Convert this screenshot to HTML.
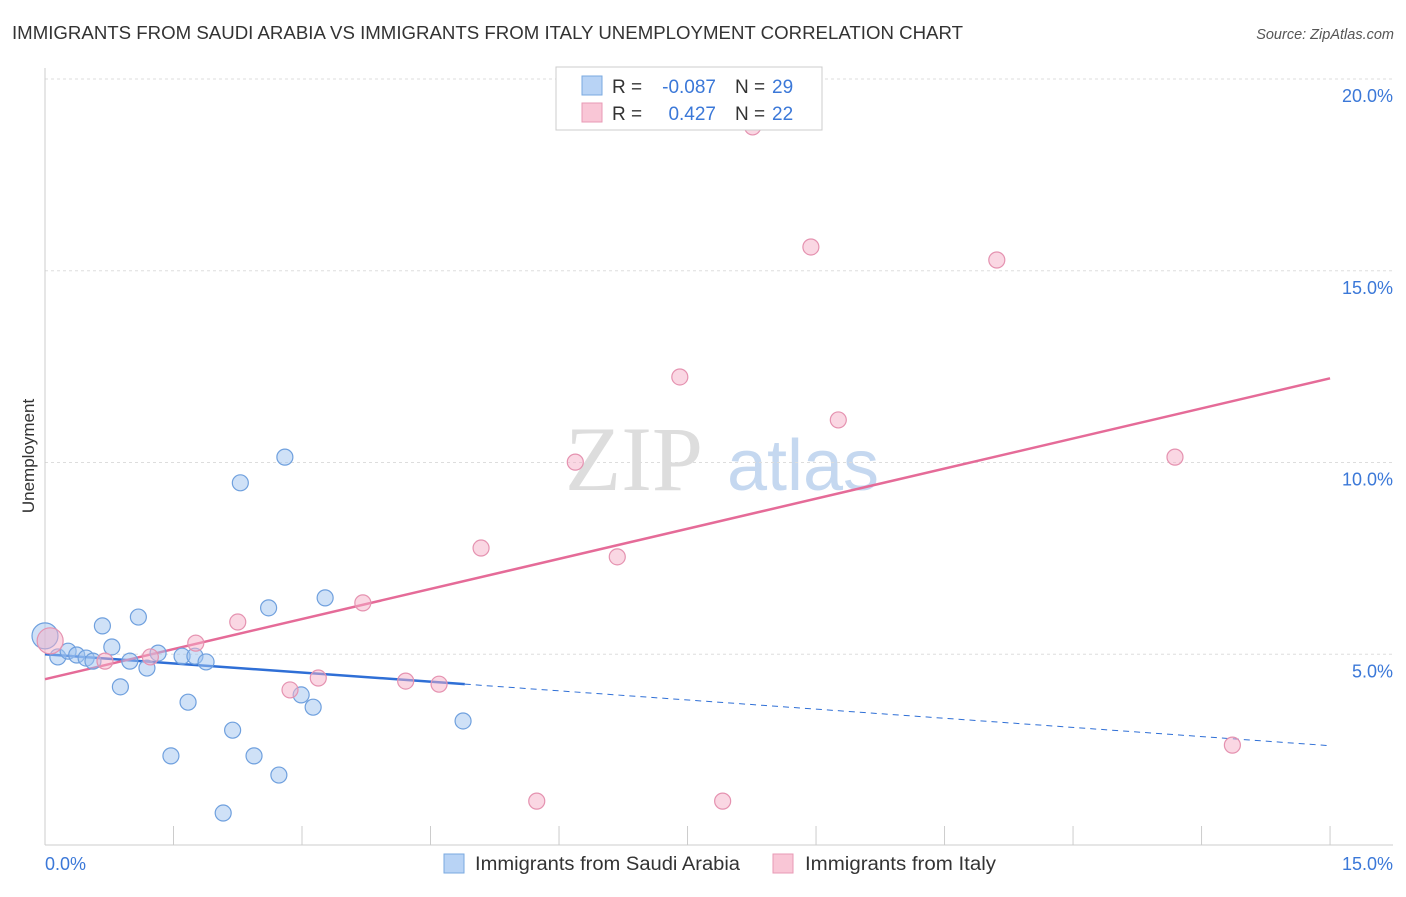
<!DOCTYPE html>
<html><head><meta charset="utf-8"><style>
body{margin:0;background:#fff;font-family:"Liberation Sans",sans-serif}
svg text{font-family:"Liberation Sans",sans-serif}
</style></head><body>
<svg id="chart" width="1406" height="892">
<text x="12" y="39" font-size="18" fill="#333" textLength="951" lengthAdjust="spacingAndGlyphs">IMMIGRANTS FROM SAUDI ARABIA VS IMMIGRANTS FROM ITALY UNEMPLOYMENT CORRELATION CHART</text>
<text x="1394" y="39" font-size="14.5" fill="#555" font-style="italic" text-anchor="end">Source: ZipAtlas.com</text>
<text x="34" y="456" font-size="17" fill="#333" text-anchor="middle" transform="rotate(-90 34 456)">Unemployment</text>
<g>
<text x="634" y="490" font-size="92" fill="#ddd" text-anchor="middle" style="font-family:'Liberation Serif',serif">ZIP</text>
<text x="803" y="490" font-size="72" fill="#c5d8f0" text-anchor="middle">atlas</text>
</g>
<g id="grid"></g><g id="axes"></g><g id="trends"></g><g id="points"></g>
<g>
<rect x="556" y="67" width="266" height="63" fill="#fff" stroke="#ccc"/>
<rect x="582" y="76" width="20" height="19" fill="#b8d3f5" stroke="#7aaae0"/>
<rect x="582" y="103" width="20" height="19" fill="#f9c6d6" stroke="#e89ab5"/>
<text x="612" y="93" font-size="19" fill="#333">R =</text>
<text x="716" y="93" font-size="19" fill="#3b78d8" text-anchor="end">-0.087</text>
<text x="735" y="93" font-size="19" fill="#333">N =</text>
<text x="772" y="93" font-size="19" fill="#3b78d8">29</text>
<text x="612" y="120" font-size="19" fill="#333">R =</text>
<text x="716" y="120" font-size="19" fill="#3b78d8" text-anchor="end">0.427</text>
<text x="735" y="120" font-size="19" fill="#333">N =</text>
<text x="772" y="120" font-size="19" fill="#3b78d8">22</text>
</g>
<g>
<rect x="444" y="854" width="20" height="19" fill="#b8d3f5" stroke="#7aaae0"/>
<text x="475" y="870" font-size="19" fill="#333" textLength="265" lengthAdjust="spacingAndGlyphs">Immigrants from Saudi Arabia</text>
<rect x="773" y="854" width="20" height="19" fill="#f9c6d6" stroke="#e89ab5"/>
<text x="805" y="870" font-size="19" fill="#333" textLength="191" lengthAdjust="spacingAndGlyphs">Immigrants from Italy</text>
</g>
</svg>
<script>
const blueX=[0.00,0.15,0.27,0.37,0.48,0.56,0.67,0.78,0.88,0.99,1.09,1.19,1.32,1.47,1.60,1.67,1.75,1.88,2.08,2.19,2.28,2.44,2.61,2.73,2.80,2.99,3.13,3.27,4.88];
const blueY=[5.48,4.93,5.08,4.98,4.90,4.82,5.74,5.19,4.15,4.82,5.97,4.64,5.03,2.35,4.95,3.75,4.95,4.80,0.86,3.02,9.47,2.35,6.21,1.85,10.14,3.94,3.62,6.47,3.26];
const pinkX=[0.06,0.70,1.23,1.76,2.25,2.86,3.19,3.71,4.21,4.60,5.09,5.74,6.19,6.68,7.41,7.91,8.26,8.94,9.26,11.11,13.19,13.86];
const pinkY=[5.35,4.82,4.93,5.29,5.84,4.07,4.38,6.34,4.30,4.22,7.77,1.17,10.01,7.54,12.23,1.17,18.75,15.62,11.11,15.28,10.14,2.63];
const yTicks=[5,10,15,20];
const yTickLabels=["5.0%","10.0%","15.0%","20.0%"];
const xTicks=[0,1.5,3,4.5,6,7.5,9,10.5,12,13.5,15];
const blueTrend=[5.0,-0.159];
const pinkTrend=[4.35,0.523];
const NS="http://www.w3.org/2000/svg";
const sx=v=>45+v*85.67, sy=v=>846-v*38.35;
function mk(p,t,a){const e=document.createElementNS(NS,t);for(const k in a)e.setAttribute(k,a[k]);document.getElementById(p).appendChild(e);return e;}
yTicks.forEach((t,i)=>{
 const g=mk('grid','line',{x1:45,x2:1393,y1:sy(t),y2:sy(t),stroke:'#ddd','stroke-dasharray':'3,3'});
 
 
 const l=mk('grid','text',{x:1393,y:sy(t)+23,'font-size':18,fill:'#3b78d8','text-anchor':'end'});
 l.textContent=yTickLabels[i];
 
 
});
const topGrid=mk('grid','line',{x1:45,x2:1393,y1:79,y2:79,stroke:'#ddd','stroke-dasharray':'3,3'});


const xa=mk('axes','line',{x1:45,x2:1393,y1:845,y2:845,stroke:'#ccc'});


const ya=mk('axes','line',{x1:45,x2:45,y1:68,y2:845,stroke:'#ccc'});


xTicks.forEach(t=>{const e=mk('axes','line',{x1:sx(t),x2:sx(t),y1:826,y2:845,stroke:'#ccc'});
 
 });
const xl0=mk('axes','text',{x:45,y:870,'font-size':18,fill:'#3b78d8'});xl0.textContent='0.0%';


const xl1=mk('axes','text',{x:1393,y:870,'font-size':18,fill:'#3b78d8','text-anchor':'end'});xl1.textContent='15.0%';


const bEnd=4.9;
const tr1=mk('trends','line',{x1:sx(0),y1:sy(blueTrend[0]),x2:sx(bEnd),y2:sy(blueTrend[0]+blueTrend[1]*bEnd),stroke:'#2f6fd6','stroke-width':2.5});


const tr2=mk('trends','line',{x1:sx(bEnd),y1:sy(blueTrend[0]+blueTrend[1]*bEnd),x2:sx(15),y2:sy(blueTrend[0]+blueTrend[1]*15),stroke:'#2f6fd6','stroke-width':1,'stroke-dasharray':'6,5'});


const tr3=mk('trends','line',{x1:sx(0),y1:sy(pinkTrend[0]),x2:sx(15),y2:sy(pinkTrend[0]+pinkTrend[1]*15),stroke:'#e56b98','stroke-width':2.5});


function pts(X,Y,fill,stroke,name){X.forEach((x,i)=>{
 const c=mk('points','circle',{cx:sx(x),cy:sy(Y[i]),r:i==0?13:8,fill:fill,stroke:stroke,'stroke-width':1.2});
 
 });}
pts(blueX,blueY,'rgba(160,196,240,0.5)','#6fa0de','saudi-point');
pts(pinkX,pinkY,'rgba(246,176,200,0.5)','#e592b0','italy-point');
</script>
</body></html>
